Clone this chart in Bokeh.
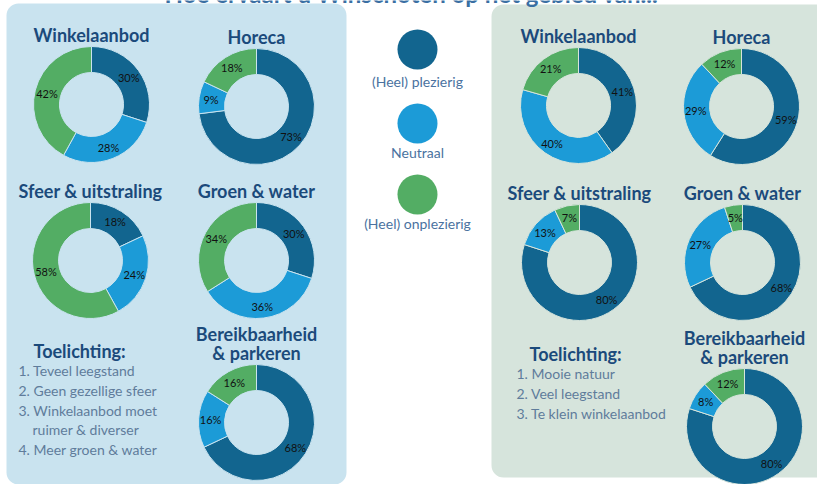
import numpy as np
from bokeh.plotting import figure
from bokeh.models import Range1d, ColumnDataSource
from bokeh.core.properties import value
from bokeh.embed import file_html
from bokeh.resources import INLINE

# ---------------- data ----------------
title = "Hoe ervaart u Winschoten op het gebied van..."
categories = ["Winkelaanbod", "Horeca", "Sfeer & uitstraling", "Groen & water", "Bereikbaarheid\n& parkeren"]
left_pleasant = [30, 73, 18, 30, 68]
left_neutral = [28, 9, 24, 36, 16]
left_unpleasant = [42, 18, 58, 34, 16]
right_pleasant = [41, 59, 80, 68, 80]
right_neutral = [40, 29, 13, 27, 8]
right_unpleasant = [21, 12, 7, 5, 12]
legend_labels = ["(Heel) plezierig", "Neutraal", "(Heel) onplezierig"]
notes_title = "Toelichting:"
left_notes = ["1. Teveel leegstand", "2. Geen gezellige sfeer", "3. Winkelaanbod moet", "ruimer & diverser", "4. Meer groen & water"]
right_notes = ["1. Mooie natuur", "2. Veel leegstand", "3. Te klein winkelaanbod"]

# ---------------- style / layout ----------------
COLORS = ["#12658f", "#1c9bd7", "#53ad64"]
NAVY = "#1b4a7b"
LEFT_BG = "#c9e3ef"
RIGHT_BG = "#d6e4dc"
W, H = 817, 484
R_OUT, R_IN = 58, 32

def Y(y):
    # reference pixel row -> data y
    return H - y

p = figure(width=W, height=H, output_backend="svg", toolbar_location=None,
           x_range=Range1d(0, W), y_range=Range1d(0, H), min_border=0)
p.axis.visible = False
p.grid.visible = False
p.outline_line_color = None
p.background_fill_color = "white"
p.border_fill_color = "white"

# panels
p.quad(left=[6], right=[346], bottom=[Y(484)], top=[Y(3)], fill_color=LEFT_BG,
       line_color=None, border_radius=12)
p.quad(left=[491], right=[840], bottom=[Y(477)], top=[Y(4)], fill_color=RIGHT_BG,
       line_color=None, border_radius=12)

# title (cut at top like reference)
p.text(x=[411], y=[Y(-7)], text=[title], text_align="center", text_baseline="alphabetic",
       text_font=value("Lato"), text_font_style="bold", text_font_size="24px",
       text_color="#3a6fa3")

left_centers = [(91, 104), (256, 106), (90, 260), (256, 260), (256, 422)]
right_centers = [(578, 105), (741, 106), (579, 262), (742, 262), (744, 426)]

def donuts(centers, pleasant, neutral, unpleasant, bg):
    for (cx, cy), vals, name in zip(centers, zip(pleasant, neutral, unpleasant), categories):
        v = np.array(vals, dtype=float)
        frac = v / v.sum()
        cum = np.concatenate([[0], np.cumsum(frac)])
        start = np.pi / 2 - cum[:-1] * 2 * np.pi
        end = np.pi / 2 - cum[1:] * 2 * np.pi
        src = ColumnDataSource(dict(x=[cx] * 3, y=[Y(cy)] * 3, start=start, end=end,
                                    color=COLORS))
        p.annular_wedge(x="x", y="y", inner_radius=R_IN, outer_radius=R_OUT,
                        start_angle="start", end_angle="end", direction="clock",
                        fill_color="color", line_color=bg, line_width=1, source=src)
        mid = (cum[:-1] + cum[1:]) / 2 * 2 * np.pi
        rm = (R_IN + R_OUT) / 2 + 1
        lx = cx + rm * np.sin(mid)
        ly = Y(cy) + rm * np.cos(mid)
        p.text(x=lx, y=ly, text=[f"{int(a)}%" for a in vals], text_align="center",
               text_baseline="middle", text_font=value("Lato"), text_font_size="11px",
               text_color="#111111")
        lines = name.split("\n")
        for i, line in enumerate(lines[::-1]):
            p.text(x=[cx], y=[Y(cy - 70 - 19 * i)], text=[line], text_align="center",
                   text_baseline="middle", text_font=value("Lato"), text_font_style="bold",
                   text_font_size="18px", text_color=NAVY)

donuts(left_centers, left_pleasant, left_neutral, left_unpleasant, LEFT_BG)
donuts(right_centers, right_pleasant, right_neutral, right_unpleasant, RIGHT_BG)

# legend
leg_y = [49, 123, 194]
leg_label_y = [81, 152, 223]
p.circle(x=[417] * 3, y=[Y(v) for v in leg_y], radius=20, fill_color=COLORS, line_color=None)
p.text(x=[417] * 3, y=[Y(v) for v in leg_label_y], text=legend_labels, text_align="center",
       text_baseline="middle", text_font=value("Lato"), text_font_size="14px",
       text_color="#4a72a0")

# notes
def notes(tx, ty, ix, iy, items, indent):
    p.text(x=[tx], y=[Y(ty)], text=[notes_title], text_align="left", text_baseline="middle",
           text_font=value("Lato"), text_font_style="bold", text_font_size="18px",
           text_color=NAVY)
    xs = [ix + (14 if i in indent else 0) for i in range(len(items))]
    p.text(x=xs, y=[Y(iy + 19.8 * i) for i in range(len(items))], text=items,
           text_align="left", text_baseline="middle", text_font=value("Lato"),
           text_font_size="14px", text_color="#5f7c9b")

notes(33, 350, 18, 370, left_notes, {3})
notes(529, 353, 516, 373, right_notes, set())

open("out.html", "w").write(file_html(p, INLINE))
